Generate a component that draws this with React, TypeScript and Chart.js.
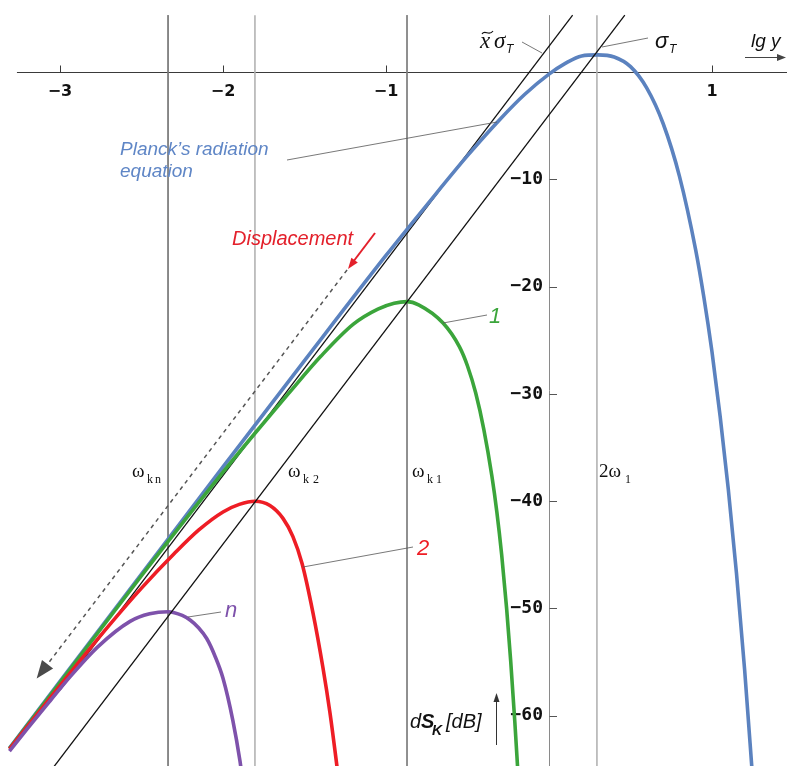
import React, { useEffect, useRef } from 'react';
import { Chart, registerables } from 'chart.js';

Chart.register(...registerables);

// ---------------- data ----------------
const planckX = [-3.31, -3.0, -2.5, -2.0, -1.5, -1.0, -0.75, -0.5, -0.3, -0.15, 0, 0.1, 0.2, 0.3, 0.4, 0.5, 0.6, 0.7, 0.8, 0.9, 0.95, 1.0, 1.05, 1.1, 1.15, 1.2, 1.25];
const planckY = [-63.0, -56.8, -46.8, -36.8, -26.9, -17.1, -12.4, -7.8, -4.4, -2.1, -0.2, 0.8, 1.5, 1.6, 1.4, 0.5, -1.5, -4.8, -9.7, -16.6, -21.0, -26.1, -32.1, -38.9, -46.7, -55.7, -66.0];

const curve1X = [-3.31, -3.0, -2.5, -2.0, -1.8, -1.6, -1.4, -1.2, -1.05, -0.95, -0.871, -0.8, -0.65, -0.55, -0.5, -0.45, -0.4, -0.35, -0.32, -0.29, -0.26, -0.235, -0.21, -0.19];
const curve1Y = [-63.05, -56.9, -46.95, -37.3, -33.6, -30.0, -26.5, -23.5, -22.1, -21.55, -21.4, -21.7, -23.4, -25.6, -27.4, -29.9, -33.3, -37.7, -41.0, -45.05, -50.0, -54.9, -60.5, -65.5];

const curve2X = [-3.31, -3.1, -2.9, -2.7, -2.5, -2.3, -2.15, -2.0, -1.9, -1.804, -1.712, -1.632, -1.571, -1.515, -1.448, -1.387, -1.344, -1.301, -1.28];
const curve2Y = [-63.1, -59.1, -55.3, -51.6, -48.1, -44.9, -42.7, -41.0, -40.3, -40.0, -40.4, -41.6, -43.3, -45.8, -50.4, -55.5, -59.7, -64.7, -67.3];

const curveNX = [-3.31, -3.2, -3.06, -2.94, -2.77, -2.57, -2.45, -2.337, -2.25, -2.2, -2.15, -2.1, -2.05, -2.0, -1.94, -1.896, -1.88];
const curveNY = [-63.3, -61.2, -58.6, -56.4, -53.6, -51.2, -50.5, -50.3, -50.65, -51.1, -51.8, -52.8, -54.4, -56.5, -60.4, -64.2, -66.0];

// tangent lines (20 dB / decade)
const tangentAX = [-3.0, 0.145];
const tangentAY = [-57.6, 5.3];
const tangentBX = [-3.04, 0.465];
const tangentBY = [-64.8, 5.3];

// dashed "displacement" line
const displaceX = [-1.239, -3.08];
const displaceY = [-18.45, -55.27];

// vertical marker lines  (ω_kn, ω_k2, ω_k1, 2ω_1)
const omegaX = [-2.337, -1.804, -0.871, 0.294];
const frameTop = 5.3;
const frameBottom = -68;
const axisXStart = -3.264;

// tick labels
const xTickLabels = [-3, -2, -1, 1];
const yTickLabels = [-10, -20, -30, -40, -50, -60];

const X_MIN = -3.368;
const X_MAX = 1.46;
const Y_MIN = -64.68;
const Y_MAX = 6.71;

// ---------------- styles ----------------
const SANS = '"Liberation Sans", Arial, sans-serif';
const SERIF = '"Liberation Serif", "Times New Roman", serif';
const omegaStyles = [
  { color: '#7a7a7a', width: 1 },
  { color: '#b3b3b3', width: 1.6 },
  { color: '#808080', width: 1 },
  { color: '#b3b3b3', width: 1.6 },
];

const pts = (xs: number[], ys: number[]) => xs.map((x, i) => ({ x, y: ys[i] }));
const minus = (v: number) => (v < 0 ? '\u2212' + Math.abs(v) : String(v));
const noPad = (scale: any) => {
  scale.paddingTop = 0;
  scale.paddingBottom = 0;
  scale.paddingLeft = 0;
  scale.paddingRight = 0;
};

function seg(ctx: CanvasRenderingContext2D, x1: number, y1: number, x2: number, y2: number, color: string, w: number) {
  ctx.beginPath();
  ctx.strokeStyle = color;
  ctx.lineWidth = w;
  ctx.setLineDash([]);
  ctx.moveTo(x1, y1);
  ctx.lineTo(x2, y2);
  ctx.stroke();
}

function head(ctx: CanvasRenderingContext2D, tipX: number, tipY: number, fromX: number, fromY: number, len: number, half: number, color: string) {
  const dx = tipX - fromX;
  const dy = tipY - fromY;
  const L = Math.hypot(dx, dy) || 1;
  const ux = dx / L;
  const uy = dy / L;
  const bx = tipX - ux * len;
  const by = tipY - uy * len;
  ctx.beginPath();
  ctx.fillStyle = color;
  ctx.moveTo(tipX, tipY);
  ctx.lineTo(bx - uy * half, by + ux * half);
  ctx.lineTo(bx + uy * half, by - ux * half);
  ctx.closePath();
  ctx.fill();
}

function txt(ctx: CanvasRenderingContext2D, s: string, x: number, y: number, font: string, color: string) {
  ctx.font = font;
  ctx.fillStyle = color;
  ctx.textAlign = 'left';
  ctx.textBaseline = 'alphabetic';
  ctx.fillText(s, x, y);
}

const axesPlugin = {
  id: 'mathAxes',
  beforeDatasetsDraw(chart: any) {
    const { ctx } = chart;
    const xs = chart.scales.x;
    const ys = chart.scales.y;
    const x0 = Math.round(xs.getPixelForValue(0)) + 0.5;
    const y0 = Math.round(ys.getPixelForValue(0)) + 0.5;
    ctx.save();
    // x axis
    seg(ctx, xs.getPixelForValue(axisXStart), y0, xs.right, y0, '#3a3a3a', 1);
    for (const t of xs.ticks) {
      const v = t.value;
      const k = v / 0.2;
      if (Math.abs(k - Math.round(k)) > 1e-6) continue;
      if (v < axisXStart || Math.abs(v) < 1e-9) continue;
      const px = Math.round(xs.getPixelForValue(v)) + 0.5;
      const major = Math.abs(v - Math.round(v)) < 1e-6;
      seg(ctx, px, y0, px, y0 - (major ? 7 : 4), '#3a3a3a', 1);
    }
    // y axis
    seg(ctx, x0, ys.getPixelForValue(frameTop), x0, ys.bottom, '#8a8a8a', 1);
    for (const t of ys.ticks) {
      const v = t.value;
      const k = v / 2;
      if (Math.abs(k - Math.round(k)) > 1e-6) continue;
      if (Math.abs(v) < 1e-9 || v > frameTop) continue;
      const py = Math.round(ys.getPixelForValue(v)) + 0.5;
      const major = Math.abs(v / 10 - Math.round(v / 10)) < 1e-6;
      seg(ctx, x0, py, x0 + (major ? 7.5 : 5), py, '#555', 1);
    }
    ctx.restore();
  },
};

const notesPlugin = {
  id: 'notes',
  afterDatasetsDraw(chart: any) {
    const { ctx } = chart;
    ctx.save();
    const grey = '#555';

    // dashed arrow head (at the end of the displacement dataset)
    const meta = chart.getDatasetMeta(6);
    if (meta && meta.data.length === 2) {
      const a = meta.data[0];
      const b = meta.data[1];
      const dx = b.x - a.x;
      const dy = b.y - a.y;
      const L = Math.hypot(dx, dy);
      head(ctx, b.x + (dx / L) * 17, b.y + (dy / L) * 17, a.x, a.y, 18, 7, '#4a4a4a');
    }

    // Planck label
    txt(ctx, 'Planck\u2019s radiation', 120, 155, `italic 19px ${SANS}`, '#5f86c6');
    txt(ctx, 'equation', 120, 177, `italic 19px ${SANS}`, '#5f86c6');
    seg(ctx, 287, 160, 497, 122, grey, 0.8);

    // Displacement
    txt(ctx, 'Displacement', 232, 245, `italic 20px ${SANS}`, '#e3202b');
    seg(ctx, 375, 233, 353, 262, '#e3202b', 2);
    head(ctx, 348, 269, 375, 233, 11, 4, '#e3202b');

    // x~ sigma_T
    txt(ctx, 'x', 480, 48, `italic 23px ${SERIF}`, '#111');
    ctx.beginPath();
    ctx.strokeStyle = '#111';
    ctx.lineWidth = 1.2;
    ctx.moveTo(482, 34);
    ctx.bezierCurveTo(485, 29, 489, 37, 493, 31);
    ctx.stroke();
    txt(ctx, '\u03C3', 494, 48, `italic 23px ${SERIF}`, '#111');
    txt(ctx, 'T', 506, 53, `italic 12px ${SANS}`, '#111');
    seg(ctx, 522, 42, 542, 53, grey, 0.8);

    // sigma_T
    txt(ctx, '\u03C3', 655, 48, `italic 22px ${SANS}`, '#111');
    txt(ctx, 'T', 669, 53, `italic 12px ${SANS}`, '#111');
    seg(ctx, 648, 38, 602, 47, grey, 0.8);

    // lg y
    txt(ctx, 'lg y', 751, 47, `italic 19px ${SANS}`, '#111');
    seg(ctx, 745, 57.5, 778, 57.5, '#444', 1);
    head(ctx, 786, 57.5, 745, 57.5, 9, 3.5, '#444');

    // curve labels
    txt(ctx, '1', 489, 323, `italic 22px ${SANS}`, '#3ba53b');
    seg(ctx, 443, 323, 487, 315, grey, 0.8);
    txt(ctx, '2', 417, 555, `italic 22px ${SANS}`, '#ee1d25');
    seg(ctx, 303, 567, 413, 547, grey, 0.8);
    txt(ctx, 'n', 225, 617, `italic 22px ${SANS}`, '#7e52ab');
    seg(ctx, 188, 617, 221, 612, grey, 0.8);

    // omega labels
    const om = `19px ${SERIF}`;
    const sub = `12px ${SERIF}`;
    txt(ctx, '\u03C9', 132, 477, om, '#111');
    txt(ctx, 'k', 147, 483, sub, '#111');
    txt(ctx, 'n', 155, 483, sub, '#111');
    txt(ctx, '\u03C9', 288, 477, om, '#111');
    txt(ctx, 'k', 303, 483, sub, '#111');
    txt(ctx, '2', 313, 483, sub, '#111');
    txt(ctx, '\u03C9', 412, 477, om, '#111');
    txt(ctx, 'k', 427, 483, sub, '#111');
    txt(ctx, '1', 436, 483, sub, '#111');
    txt(ctx, '2\u03C9', 599, 477, om, '#111');
    txt(ctx, '1', 625, 483, sub, '#111');

    // y axis title
    txt(ctx, 'd', 410, 728, `italic 20px ${SANS}`, '#111');
    txt(ctx, 'S', 421, 728, `italic bold 20px ${SANS}`, '#111');
    txt(ctx, 'K', 432, 735, `italic bold 14px ${SANS}`, '#111');
    txt(ctx, '[dB]', 446, 728, `italic 20px ${SANS}`, '#111');
    seg(ctx, 496.5, 745, 496.5, 700, '#333', 1);
    head(ctx, 496.5, 693, 496.5, 745, 9, 3, '#333');

    ctx.restore();
  },
};

export default function App() {
  const ref = useRef<HTMLCanvasElement | null>(null);

  useEffect(() => {
    if (!ref.current) return;
    const line = (data: any[], color: string, width: number, order: number, extra: any = {}) => ({
      data,
      borderColor: color,
      backgroundColor: color,
      borderWidth: width,
      pointRadius: 0,
      fill: false,
      order,
      ...extra,
    });
    const smooth = { cubicInterpolationMode: 'monotone' };
    const datasets: any[] = [
      line(pts(curveNX, curveNY), '#7e52ab', 3.6, 1, smooth),
      line(pts(curve2X, curve2Y), '#ee1d25', 3.6, 2, smooth),
      line(pts(curve1X, curve1Y), '#3ba53b', 3.6, 3, smooth),
      line(pts(planckX, planckY), '#5b82bf', 3.6, 4, smooth),
      line(pts(tangentBX, tangentBY), '#111', 1.3, 0),
      line(pts(tangentAX, tangentAY), '#111', 1.3, 5),
      line(pts(displaceX, displaceY), '#555', 1.5, 6, { borderDash: [4, 4] }),
      ...omegaX.map((xv, i) =>
        line(pts([xv, xv], [frameTop, frameBottom]), omegaStyles[i].color, omegaStyles[i].width, 7 + i)
      ),
    ];

    const chart = new Chart(ref.current, {
      type: 'line',
      data: { datasets },
      options: {
        animation: false,
        responsive: false,
        devicePixelRatio: 1,
        events: [],
        layout: { padding: 0 },
        plugins: { legend: { display: false }, tooltip: { enabled: false } },
        scales: {
          x: {
            type: 'linear',
            min: X_MIN,
            max: X_MAX,
            position: { y: 0 } as any,
            border: { display: false },
            grid: { display: false, drawTicks: true, tickLength: 10 },
            afterFit: noPad,
            ticks: {
              stepSize: 0.2,
              autoSkip: false,
              padding: 0,
              maxRotation: 0,
              minRotation: 0,
              color: '#111',
              font: { family: '"DejaVu Sans", sans-serif', weight: 'bold', size: 16 },
              callback: (v: any) => {
                const t = xTickLabels.find((q) => Math.abs(q - Number(v)) < 1e-6);
                return t === undefined ? null : minus(t);
              },
            },
          },
          y: {
            type: 'linear',
            min: Y_MIN,
            max: Y_MAX,
            position: { x: -0.037 } as any,
            border: { display: false },
            grid: { display: false, drawTicks: false },
            afterFit: noPad,
            ticks: {
              stepSize: 2,
              autoSkip: false,
              padding: 0,
              color: '#111',
              font: { family: '"DejaVu Sans Mono", monospace', weight: 'bold', size: 18 },
              callback: (v: any) => {
                const t = yTickLabels.find((q) => Math.abs(q - Number(v)) < 1e-6);
                return t === undefined ? null : minus(t);
              },
            },
          },
        },
      } as any,
      plugins: [axesPlugin, notesPlugin],
    });
    return () => chart.destroy();
  }, []);

  return (
    <div style={{ position: 'fixed', left: 0, top: 0, width: 787, height: 766, background: '#fff' }}>
      <canvas ref={ref} width={787} height={766} style={{ display: 'block' }} />
    </div>
  );
}
